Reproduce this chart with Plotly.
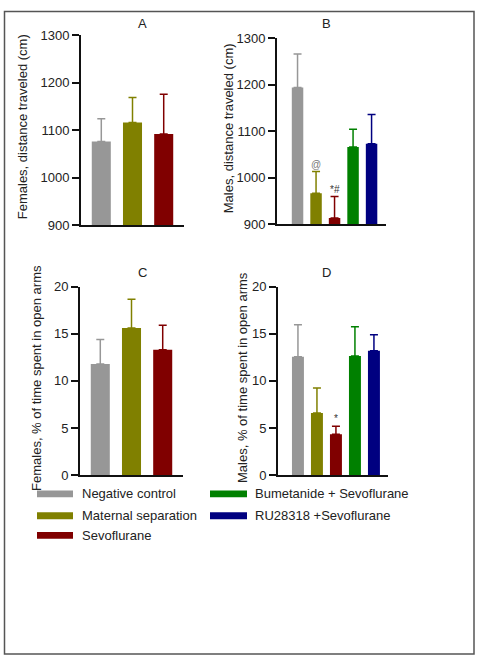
import plotly.graph_objects as go

W, H = 479, 667

groups = ["Negative control", "Maternal separation", "Sevoflurane",
          "Bumetanide + Sevoflurane", "RU28318 +Sevoflurane"]
colors = ["#979797", "#808000", "#800000", "#008000", "#000080"]

female_distance = [1076, 1116, 1092]
female_distance_err = [48, 53, 84]
male_distance = [1194, 966, 913, 1066, 1073]
male_distance_err = [72, 47, 46, 38, 63]
female_open = [11.8, 15.6, 13.3]
female_open_err = [2.6, 3.05, 2.6]
male_open = [12.55, 6.6, 4.35, 12.65, 13.2]
male_open_err = [3.4, 2.65, 0.85, 3.1, 1.7]

panel_letters = ["A", "B", "C", "D"]
ytitles = ["Females, distance traveled (cm)", "Males, distance traveled (cm)",
           "Females, % of time spent in open arms", "Males, % of time spent in open arms"]
sig_marks = [("B", 1, "@", "#777777"), ("B", 2, "*#", "#333333"), ("D", 2, "*", "#333333")]

FONT = "Liberation Sans, Arial, sans-serif"

def px_x(p):
    return p / W

def px_y(p):
    return 1 - p / H

panels = [
    dict(vals=female_distance, err=female_distance_err, x0=81, x1=184, yt=29, yb=223,
         xr=[-0.65, 2.65], bw=0.61, yr=[900, 1300], dt=100, tx=22, lx=142, ly=17),
    dict(vals=male_distance, err=male_distance_err, x0=277, x1=386, yt=32, yb=222,
         xr=[-1.11, 4.78], bw=0.62, yr=[900, 1300], dt=100, tx=228, lx=326, ly=17),
    dict(vals=female_open, err=female_open_err, x0=80, x1=183, yt=286, yb=479,
         xr=[-0.65, 2.65], bw=0.61, yr=[0, 20], dt=5, tx=37, lx=142, ly=272),
    dict(vals=male_open, err=male_open_err, x0=278, x1=388, yt=286, yb=479,
         xr=[-1.05, 4.74], bw=0.63, yr=[0, 20], dt=5, tx=243, lx=326, ly=272),
]

fig = go.Figure()
layout = dict(
    width=W, height=H, margin=dict(l=0, r=0, t=0, b=0),
    paper_bgcolor="white", plot_bgcolor="white",
    barmode="overlay", showlegend=False,
    font=dict(family=FONT, size=13, color="#222222"),
)
annotations = []
shapes = []

for i, p in enumerate(panels):
    k = "" if i == 0 else str(i + 1)
    for j, v in enumerate(p["vals"]):
        fig.add_trace(go.Bar(
            x=[j], y=[v], width=p["bw"],
            marker=dict(color=colors[j], line=dict(width=0)),
            error_y=dict(type="data", symmetric=False, array=[p["err"][j]], arrayminus=[0],
                         color=colors[j], thickness=1.5, width=4),
            xaxis="x" + k, yaxis="y" + k, name=groups[j],
        ))
    layout["xaxis" + k] = dict(
        domain=[px_x(p["x0"]), px_x(p["x1"])], range=p["xr"], anchor="y" + k,
        showline=True, linecolor="#111111", linewidth=2, showticklabels=False,
        ticks="", showgrid=False, zeroline=False, fixedrange=True,
    )
    layout["yaxis" + k] = dict(
        domain=[px_y(p["yb"]), px_y(p["yt"])], range=p["yr"], anchor="x" + k,
        dtick=p["dt"], tick0=p["yr"][0], showline=True, linecolor="#111111", linewidth=2,
        ticks="outside", ticklen=7, tickwidth=1.5, tickcolor="#111111",
        showgrid=False, zeroline=False, tickfont=dict(size=13, color="#222222"),
        fixedrange=True,
    )
    annotations.append(dict(
        text=panel_letters[i], xref="paper", yref="paper",
        x=px_x(p["lx"]), y=px_y(p["ly"]), xanchor="center", yanchor="middle",
        showarrow=False, font=dict(size=13, color="#222222"),
    ))
    annotations.append(dict(
        text=ytitles[i], xref="paper", yref="paper", textangle=-90,
        x=px_x(p["tx"]), y=px_y((p["yt"] + p["yb"]) / 2 - 3),
        xanchor="center", yanchor="middle", showarrow=False,
        font=dict(size=13, color="#222222"),
    ))

panel_index = {"A": 0, "B": 1, "C": 2, "D": 3}
for letter, j, txt, col in sig_marks:
    i = panel_index[letter]
    p = panels[i]
    k = "" if i == 0 else str(i + 1)
    annotations.append(dict(
        text=txt, xref="x" + k, yref="y" + k, x=j, y=p["vals"][j] + p["err"][j],
        xanchor="center", yanchor="bottom", yshift=0, showarrow=False,
        font=dict(size=10, color=col),
    ))

legend_pos = [(37, 73, 80, 498), (37, 73, 80, 520.5), (37, 73, 80, 540.5),
              (210, 247, 253, 498), (210, 247, 253, 520.5)]
for g, (sx0, sx1, tx, cy) in enumerate(legend_pos):
    shapes.append(dict(
        type="rect", xref="paper", yref="paper",
        x0=px_x(sx0), x1=px_x(sx1), y0=px_y(cy + 3.5), y1=px_y(cy - 3.5),
        fillcolor=colors[g], line=dict(width=0),
    ))
    annotations.append(dict(
        text=groups[g], xref="paper", yref="paper", x=px_x(tx), y=px_y(cy),
        xanchor="left", yanchor="middle", showarrow=False,
        font=dict(size=13, color="#222222"),
    ))

shapes.append(dict(
    type="rect", xref="paper", yref="paper",
    x0=px_x(4.5), x1=px_x(474), y0=px_y(662), y1=px_y(4.5),
    line=dict(color="#555555", width=1.5), fillcolor="rgba(0,0,0,0)",
))

layout["annotations"] = annotations
layout["shapes"] = shapes
fig.update_layout(**layout)
fig.write_html(
    "out.html",
    config={"displayModeBar": False},
    post_script="document.body.style.margin='0';document.body.style.overflow='hidden';",
)
